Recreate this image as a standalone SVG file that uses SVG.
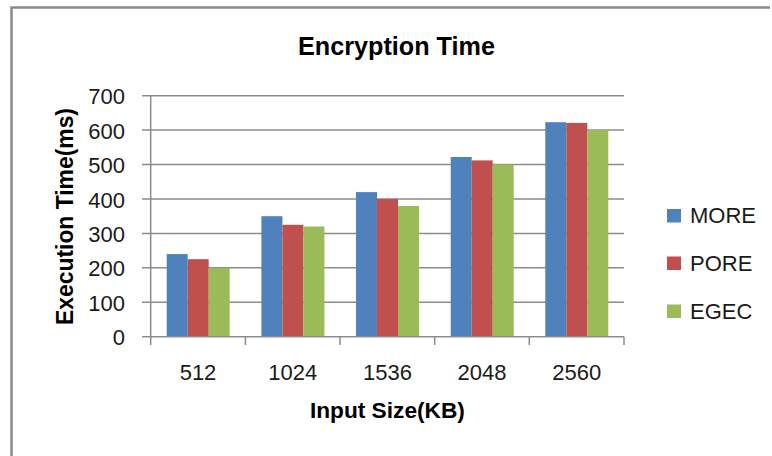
<svg xmlns="http://www.w3.org/2000/svg" width="772" height="456" viewBox="0 0 772 456">
<style>
.grid{stroke:#8c8c8c;stroke-width:1.5;fill:none}
.axis{stroke:#8c8c8c;stroke-width:1.5;fill:none}
.lbl{font-family:"Liberation Sans",Arial,sans-serif;font-size:22px;fill:#1a1a1a}
.ttl{font-family:"Liberation Sans",Arial,sans-serif;font-weight:bold;fill:#000}
.more{fill:#4F81BD}
.pore{fill:#C0504D}
.egec{fill:#9BBB59}
</style>
<rect x="0" y="0" width="772" height="456" fill="#ffffff"/>
<path d="M11.5,456 V7.5 H770" stroke="#8a8a8a" stroke-width="2.5" fill="none"/>
<text class="ttl" x="396.5" y="55" font-size="25" text-anchor="middle" textLength="197" lengthAdjust="spacingAndGlyphs">Encryption Time</text>
<g id="gridlines">
<path class="grid" d="M142,95.7H624M142,130.1H624M142,164.5H624M142,199H624M142,233.4H624M142,267.8H624M142,302.3H624"/>
</g>
<g id="bars">
<rect class="more" x="166.7" y="254.1" width="21" height="82.6"/>
<rect class="pore" x="187.7" y="259.2" width="21" height="77.5"/>
<rect class="egec" x="208.7" y="267.8" width="21" height="68.9"/>
<rect class="more" x="261.4" y="216.2" width="21" height="120.5"/>
<rect class="pore" x="282.4" y="224.8" width="21" height="111.9"/>
<rect class="egec" x="303.4" y="226.5" width="21" height="110.2"/>
<rect class="more" x="356" y="192.1" width="21" height="144.6"/>
<rect class="pore" x="377" y="199" width="21" height="137.7"/>
<rect class="egec" x="398" y="205.9" width="21" height="130.8"/>
<rect class="more" x="450.7" y="157" width="21" height="179.7"/>
<rect class="pore" x="471.7" y="160.4" width="21" height="176.3"/>
<rect class="egec" x="492.7" y="164.5" width="21" height="172.2"/>
<rect class="more" x="545.3" y="122.2" width="21" height="214.5"/>
<rect class="pore" x="566.3" y="122.9" width="21" height="213.8"/>
<rect class="egec" x="587.3" y="130.1" width="21" height="206.6"/>
</g>
<g id="axes">
<path class="axis" d="M150.7,95.7V345M142,336.7H624M245.4,336.7V345M340,336.7V345M434.7,336.7V345M529.3,336.7V345M624,336.7V345"/>
</g>
<g id="y-labels" class="lbl" text-anchor="end">
<text x="125" y="104.2">700</text>
<text x="125" y="138.6">600</text>
<text x="125" y="173">500</text>
<text x="125" y="207.5">400</text>
<text x="125" y="241.9">300</text>
<text x="125" y="276.3">200</text>
<text x="125" y="310.8">100</text>
<text x="125" y="345.2">0</text>
</g>
<g id="x-labels" class="lbl" text-anchor="middle">
<text x="198" y="380">512</text>
<text x="292.7" y="380">1024</text>
<text x="387.4" y="380">1536</text>
<text x="482" y="380">2048</text>
<text x="576.7" y="380">2560</text>
</g>
<text class="ttl" x="387.4" y="418" font-size="22.7" text-anchor="middle" textLength="155" lengthAdjust="spacingAndGlyphs">Input Size(KB)</text>
<text class="ttl" transform="translate(73,216.5) rotate(-90)" x="0" y="0" font-size="23" text-anchor="middle" textLength="217" lengthAdjust="spacingAndGlyphs">Execution Time(ms)</text>
<g id="legend">
<g id="legend-more">
<rect class="more" x="667" y="209" width="14" height="13.5"/>
<text class="lbl" x="690" y="223">MORE</text>
</g>
<g id="legend-pore">
<rect class="pore" x="667" y="256.5" width="14" height="13.5"/>
<text class="lbl" x="690" y="271">PORE</text>
</g>
<g id="legend-egec">
<rect class="egec" x="667" y="304.5" width="14" height="13.5"/>
<text class="lbl" x="690" y="319">EGEC</text>
</g>
</g>
</svg>
